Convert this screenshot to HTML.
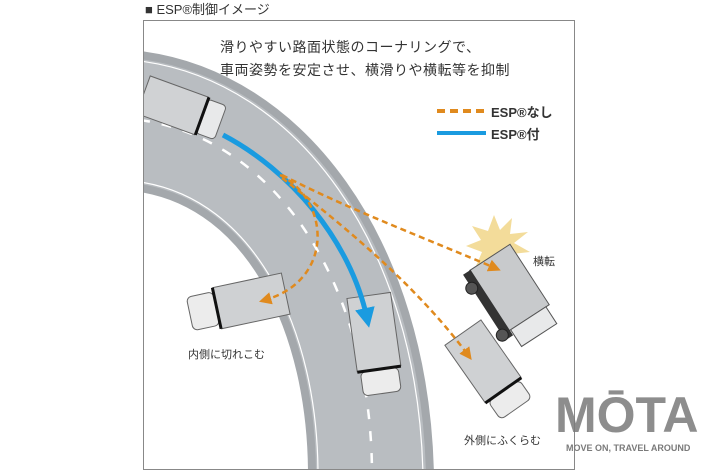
<!DOCTYPE html>
<html><head><meta charset="utf-8"><style>
body{margin:0;background:#fff;width:710px;height:473px;overflow:hidden;font-family:"Liberation Sans","Noto Sans CJK JP",sans-serif}
.t{position:absolute;color:#333;white-space:nowrap}
</style></head><body>
<div style="position:absolute;left:0;top:0;width:710px;height:473px">
<svg width="710" height="473" style="position:absolute;left:0;top:0">
<defs>
<marker id="ab" viewBox="0 0 10 10" refX="5" refY="5" markerWidth="4" markerHeight="4" orient="auto"><path d="M0,0L10,5L0,10z" fill="#1a9be0"/></marker>
<marker id="ao" viewBox="0 0 10 10" refX="5" refY="5" markerWidth="5" markerHeight="5" orient="auto"><path d="M0,0L10,5L0,10z" fill="#e08a1e"/></marker>
<clipPath id="fr"><rect x="144" y="21" width="431" height="449"/></clipPath>
</defs>
<g clip-path="url(#fr)">
<path d="M140,55 C300,75 425,240 430,475 L312,475 C312,330 250,205 140,188 Z" fill="#b9bdc1"/>
<path d="M140,55 C300,75 425,240 430,475" fill="none" stroke="#a4a8ac" stroke-width="8"/>
<path d="M140,188 C250,205 312,330 312,475" fill="none" stroke="#a4a8ac" stroke-width="8"/>
<path d="M140,61 C296,81 418,244 423,475" fill="none" stroke="#fff" stroke-width="1.2"/>
<path d="M140,182 C254,199 318,328 318,475" fill="none" stroke="#fff" stroke-width="1.2"/>
<path d="M140,120 C280,140 372,290 372,475" fill="none" stroke="#fff" stroke-width="2.5" stroke-dasharray="10,12"/>
<polygon points="494,215 500,230 512,218 510,234 528,232 514,243 530,252 512,254 518,270 503,260 496,276 490,260 476,266 482,252 466,246 481,240 472,226 488,231" fill="#f3dc9a"/>
<g transform="translate(185,112) rotate(20)"><rect x="-45" y="-22" width="62" height="40" fill="#d0d2d4" stroke="#666"/><rect x="17" y="-20" width="20" height="36" rx="4" fill="#e8e9ea" stroke="#666"/><rect x="16" y="-22" width="3" height="40" fill="#111"/></g>
<g transform="translate(237,305) rotate(-12)"><rect x="-20" y="-22" width="70" height="42" fill="#cfd1d3" stroke="#666"/><rect x="-48" y="-18" width="27" height="34" rx="5" fill="#ececec" stroke="#666"/><rect x="-22" y="-22" width="3" height="42" fill="#111"/></g>
<g transform="translate(375,340) rotate(-8)"><rect x="-22" y="-45" width="44" height="74" fill="#cfd1d3" stroke="#666"/><rect x="-19" y="30" width="38" height="24" rx="5" fill="#ececec" stroke="#666"/><rect x="-22" y="28" width="44" height="3" fill="#111"/></g>
<g transform="translate(510,292) rotate(-33)"><rect x="-22" y="-40" width="48" height="72" fill="#c8cacc" stroke="#555"/><rect x="-30" y="-40" width="9" height="78" fill="#333"/><rect x="-20" y="32" width="42" height="20" fill="#e8e9ea" stroke="#555"/><circle cx="-30" cy="-24" r="6" fill="#555" stroke="#222"/><circle cx="-30" cy="32" r="6" fill="#555" stroke="#222"/></g>
<g transform="translate(487,367) rotate(-35)"><rect x="-22" y="-42" width="44" height="70" fill="#cfd1d3" stroke="#666"/><rect x="-19" y="29" width="38" height="22" rx="5" fill="#ececec" stroke="#666"/><rect x="-22" y="27" width="44" height="3" fill="#111"/></g>
<path d="M223,135 C290,170 350,240 367,318" fill="none" stroke="#1a9be0" stroke-width="5" marker-end="url(#ab)"/>
<path d="M280,175 C330,200 335,280 265,300" fill="none" stroke="#e08a1e" stroke-width="2.5" stroke-dasharray="6,4" marker-end="url(#ao)"/>
<path d="M282,175 C350,210 430,240 495,268" fill="none" stroke="#e08a1e" stroke-width="2.5" stroke-dasharray="6,4" marker-end="url(#ao)"/>
<path d="M282,178 C350,230 420,290 468,355" fill="none" stroke="#e08a1e" stroke-width="2.5" stroke-dasharray="6,4" marker-end="url(#ao)"/>
</g>
<rect x="143.5" y="20.5" width="431" height="449" fill="none" stroke="#888" stroke-width="1"/>
<line x1="437" y1="111" x2="486" y2="111" stroke="#e08a1e" stroke-width="4" stroke-dasharray="8,5"/>
<line x1="437" y1="133" x2="486" y2="133" stroke="#1a9be0" stroke-width="4"/>
<text x="555" y="432" font-family="Liberation Sans" font-weight="bold" font-size="50" fill="#7a7a7a" opacity="0.85">MŌTA</text>
<text x="566" y="451" font-family="Liberation Sans" font-weight="bold" font-size="9" fill="#7a7a7a">MOVE ON, TRAVEL AROUND</text>
</svg>
<div class="t" style="left:145px;top:-1px;font-size:13px">■ ESP®制御イメージ</div>
<div class="t" style="left:220px;top:37px;font-size:14px;letter-spacing:0.5px">滑りやすい路面状態のコーナリングで、</div>
<div class="t" style="left:220px;top:60px;font-size:14px;letter-spacing:0.5px">車両姿勢を安定させ、横滑りや横転等を抑制</div>
<div class="t" style="left:491px;top:102px;font-size:13px;font-weight:bold">ESP®なし</div>
<div class="t" style="left:491px;top:124px;font-size:13px;font-weight:bold">ESP®付</div>
<div class="t" style="left:533px;top:253px;font-size:11px">横転</div>
<div class="t" style="left:188px;top:346px;font-size:11px">内側に切れこむ</div>
<div class="t" style="left:464px;top:432px;font-size:11px">外側にふくらむ</div>
</div>
</body></html>
